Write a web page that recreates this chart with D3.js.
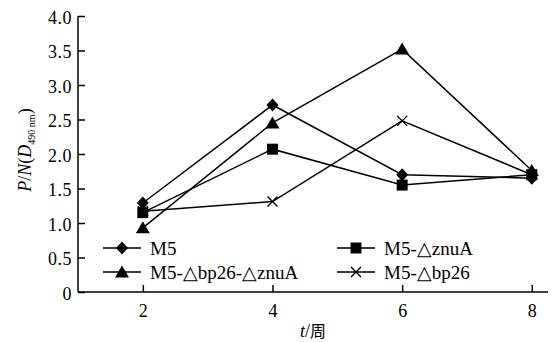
<!DOCTYPE html>
<html>
<head>
<meta charset="utf-8">
<script src="https://cdn.jsdelivr.net/npm/d3@7"></script>
<style>
  body { margin: 0; background: #fff; }
</style>
</head>
<body>
<!-- x title kept as static html so the serif faces are loaded before the script draws -->
<div id="xtitle" style="position:absolute;left:313px;top:331px;transform:translate(-50%,-50%);line-height:1;white-space:nowrap;font-family:'Liberation Serif';font-size:18px;color:#000"><i>t</i>/<span style="font-family:'Noto Sans CJK SC';font-size:16px">周</span></div>
<svg id="chart" width="558" height="342" font-family="Liberation Serif" style="display:block">
  <text transform="translate(31,150) rotate(-90)" text-anchor="middle" font-family="Liberation Serif" font-size="18"><tspan font-style="italic">P</tspan>/<tspan font-style="italic">N</tspan>(<tspan font-style="italic">D</tspan><tspan dy="4" font-size="10">490 nm</tspan><tspan dy="-4">)</tspan></text>
</svg>
<script>
// data
const weeks = [2, 4, 6, 8]
const seriesNames = ['M5', 'M5-\u25B3znuA', 'M5-\u25B3bp26-\u25B3znuA', 'M5-\u25B3bp26']
const m5 = [1.29, 2.71, 1.70, 1.65]
const znuA = [1.15, 2.07, 1.55, 1.70]
const bp26znuA = [0.93, 2.45, 3.52, 1.76]
const bp26 = [1.17, 1.31, 2.48, 1.70]
const yTicks = [0, 0.5, 1, 1.5, 2, 2.5, 3, 3.5, 4]
const xTicks = [2, 4, 6, 8]

const SERIF = 'Liberation Serif'

const series = [
    { name: seriesNames[0], values: m5, symbol: 'diamond' },
    { name: seriesNames[1], values: znuA, symbol: 'square' },
    { name: seriesNames[2], values: bp26znuA, symbol: 'triangle' },
    { name: seriesNames[3], values: bp26, symbol: 'cross' }
]

const x = d3.scaleLinear().domain([1, 8.25]).range([78, 548])
const y = d3.scaleLinear().domain([0, 4]).range([292, 16])

const svg = d3.select('#chart')

// marker drawing
const drawMarker = (g, symbol) => {
    switch (symbol) {
        case 'diamond':
            g.append('path').attr('d', 'M0,-6.5L6,0L0,6.5L-6,0Z').attr('fill', '#000')
            break
        case 'square':
            g.append('rect').attr('x', -5.5).attr('y', -5.5).attr('width', 11).attr('height', 11).attr('fill', '#000')
            break
        case 'triangle':
            g.append('path').attr('d', 'M0,-6.5L7,5.5L-7,5.5Z').attr('fill', '#000')
            break
        case 'cross':
            g.append('path').attr('d', 'M-5,-5L5,5M-5,5L5,-5')
                .attr('stroke', '#000').attr('stroke-width', 1.4).attr('fill', 'none')
            break
    }
}

// lines
const line = d3.line().x((d, i) => x(weeks[i])).y(d => y(d))
series.forEach(s => {
    svg.append('path')
        .datum(s.values)
        .attr('fill', 'none')
        .attr('stroke', '#000')
        .attr('stroke-width', 1.5)
        .attr('d', line)
})
series.forEach(s => {
    s.values.forEach((v, i) => {
        const g = svg.append('g').attr('transform', `translate(${x(weeks[i])},${y(v)})`)
        drawMarker(g, s.symbol)
    })
})

// axes with inward ticks
const yAxis = svg.append('g')
    .attr('transform', `translate(${x(1)},0)`)
    .call(d3.axisRight(y).tickValues(yTicks).tickSize(7)
        .tickFormat(d => d === 0 ? '0' : d3.format('.1f')(d)))
    .attr('font-family', SERIF)
    .attr('font-size', 18)
yAxis.select('.domain').attr('d', `M0,${y(0)}V${y(4)}`).attr('stroke-width', 1.5)
yAxis.selectAll('.tick line').attr('stroke-width', 1.5)
yAxis.selectAll('.tick text')
    .attr('x', -6).attr('text-anchor', 'end').attr('dy', '0.4em')
    .attr('fill', '#000')
    .attr('letter-spacing', 0.5)

const xAxis = svg.append('g')
    .attr('transform', `translate(0,${y(0)})`)
    .call(d3.axisTop(x).tickValues(xTicks).tickSize(7))
    .attr('font-family', SERIF)
    .attr('font-size', 18)
xAxis.select('.domain').attr('d', `M${x(1)},0H548`).attr('stroke-width', 1.5)
xAxis.selectAll('.tick line').attr('stroke-width', 1.5)
xAxis.selectAll('.tick text')
    .attr('y', 25).attr('dy', 0)
    .attr('fill', '#000')

// legend
const legendPos = [
    { lx: 103, ly: 248 },
    { lx: 337, ly: 248 },
    { lx: 103, ly: 272 },
    { lx: 337, ly: 272 }
]
series.forEach((s, i) => {
    const { lx, ly } = legendPos[i]
    const g = svg.append('g').attr('transform', `translate(${lx},${ly})`)
    g.append('line').attr('x1', 0).attr('x2', 38).attr('y1', 0).attr('y2', 0)
        .attr('stroke', '#000').attr('stroke-width', 1.5)
    drawMarker(g.append('g').attr('transform', 'translate(19,0)'), s.symbol)
    g.append('text').attr('x', 47).attr('y', 0).attr('dy', '0.35em')
        .attr('font-family', SERIF)
        .attr('font-size', 19).text(s.name)
})
</script>
</body>
</html>
